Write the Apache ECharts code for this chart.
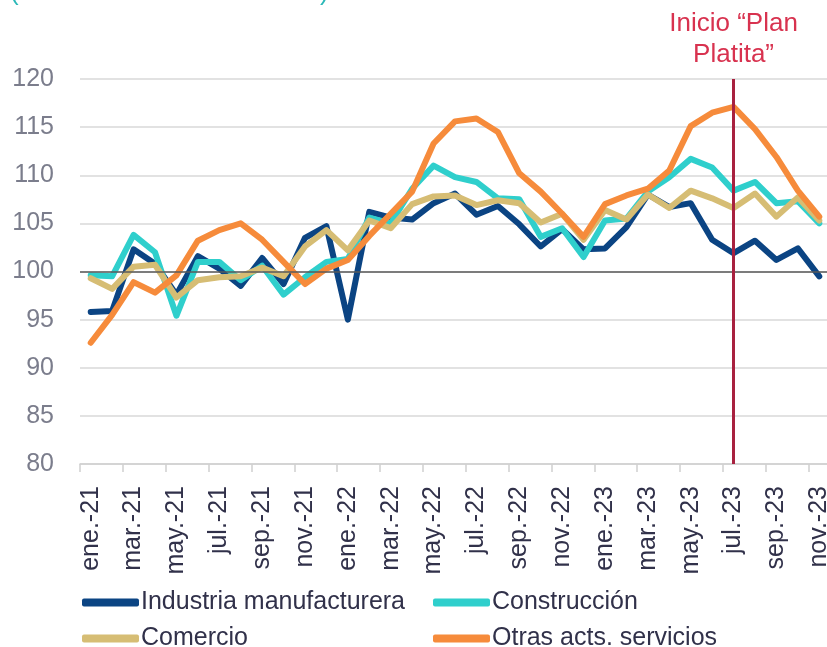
<!DOCTYPE html>
<html>
<head>
<meta charset="utf-8">
<script src="https://cdn.jsdelivr.net/npm/echarts@6/dist/echarts.min.js"></script>
<style>
  html, body { margin: 0; padding: 0; background: #fff; }
  #chart { width: 827px; height: 647px; }
</style>
</head>
<body>
<div id="chart"></div>
<script>
// meses ene.-21 ... nov.-23
const months = ['ene.', 'feb.', 'mar.', 'abr.', 'may.', 'jun.', 'jul.', 'ago.', 'sep.', 'oct.', 'nov.', 'dic.'];
const categories = [];
['21', '22', '23'].forEach(y => months.forEach(m => categories.push(m + '-' + y)));
categories.length = 35;

const industria = [95.8, 95.9, 102.3, 100.8, 97.6, 101.6, 100.3, 98.5, 101.4, 98.7, 103.5, 104.7,
  95.0, 106.2, 105.6, 105.4, 107.1, 108.1, 105.9, 106.8, 104.9, 102.6, 104.4, 102.3,
  102.4, 104.6, 108.0, 106.7, 107.1, 103.3, 101.9, 103.2, 101.2, 102.4, 99.5];
const construccion = [99.6, 99.5, 103.8, 102.0, 95.4, 101.0, 101.0, 99.1, 100.6, 97.6, 99.4, 101.0,
  101.3, 105.6, 105.0, 108.6, 111.0, 109.8, 109.3, 107.6, 107.5, 103.6, 104.5, 101.5,
  105.3, 105.5, 108.3, 109.8, 111.7, 110.8, 108.4, 109.3, 107.1, 107.3, 105.0];
const comercio = [99.3, 98.2, 100.5, 100.7, 97.3, 99.1, 99.4, 99.5, 100.4, 99.5, 102.6, 104.3,
  102.2, 105.3, 104.5, 107.0, 107.8, 107.9, 106.9, 107.4, 107.1, 105.1, 106.0, 103.3,
  106.4, 105.4, 108.0, 106.6, 108.4, 107.6, 106.6, 108.1, 105.7, 107.7, 105.3];
const otras = [92.6, 95.5, 98.9, 97.8, 99.6, 103.2, 104.3, 105.0, 103.3, 101.0, 98.7, 100.3,
  101.2, 103.7, 106.0, 108.3, 113.3, 115.6, 115.9, 114.5, 110.2, 108.3, 106.0, 103.6,
  107.0, 107.9, 108.6, 110.5, 115.1, 116.5, 117.1, 114.8, 111.9, 108.4, 105.7];

const planMonth = 'jul.-23';
const baseLine = 100;

const font = 'Liberation Sans, Arial, sans-serif';
const textColor = '#31314a';

const chart = echarts.init(document.getElementById('chart'));

function line(name, data, color, extra) {
  return Object.assign({
    name: name,
    type: 'line',
    data: data,
    symbol: 'none',
    lineStyle: { width: 6, color: color, join: 'round', cap: 'round' },
    itemStyle: { color: color }
  }, extra || {});
}

function legendAt(name, left, top) {
  return {
    data: [name], left: left, top: top,
    icon: 'roundRect', itemWidth: 57, itemHeight: 8,
    textStyle: { fontFamily: font, fontSize: 25, color: textColor, padding: [0, 0, 0, -3] }
  };
}

chart.setOption({
  animation: false,
  textStyle: { fontFamily: font },
  grid: { left: 80, width: 750, top: 79, bottom: 183, outerBoundsMode: 'none', containLabel: false },
  legend: [
    legendAt('Industria manufacturera', 77, 585),
    legendAt('Construcción', 428, 585),
    legendAt('Comercio', 77, 621),
    legendAt('Otras acts. servicios', 428, 621)
  ],
  graphic: [
    { type: 'text', left: 10, top: -20, style: { text: '(', fontSize: 26, fill: '#2bb8b8', fontFamily: font } },
    { type: 'text', left: 320, top: -20, style: { text: ')', fontSize: 26, fill: '#2bb8b8', fontFamily: font } }
  ],
  xAxis: {
    type: 'category',
    data: categories,
    boundaryGap: true,
    axisLine: { lineStyle: { color: '#d0d0d0', width: 1.5 } },
    axisTick: { show: true, interval: 1, length: 8, lineStyle: { color: '#d0d0d0', width: 1.5 } },
    axisLabel: { interval: 1, rotate: 90, fontSize: 25, color: textColor, margin: 22 },
    splitLine: { show: false }
  },
  yAxis: {
    type: 'value',
    min: 80, max: 120, interval: 5,
    axisLine: { show: false },
    axisTick: { show: false },
    axisLabel: { fontSize: 25, color: '#7b7d8c', margin: 26 },
    splitLine: { lineStyle: { color: '#d9d9d9', width: 1.5 } }
  },
  series: [
    line('Industria manufacturera', industria, '#0b4483', {
      markLine: {
        silent: true, symbol: 'none',
        lineStyle: { color: '#5a5a5a', width: 1.5, type: 'solid' },
        label: { show: false },
        data: [{ yAxis: baseLine }]
      }
    }),
    line('Construcción', construccion, '#2fcfcc'),
    line('Comercio', comercio, '#d6bd74'),
    line('Otras acts. servicios', otras, '#f68b3b', {
      markLine: {
        silent: true, symbol: 'none',
        lineStyle: { color: '#a8213f', width: 3, type: 'solid' },
        label: {
          show: true, position: 'end', distance: 9,
          formatter: 'Inicio “Plan\nPlatita”',
          fontSize: 26, lineHeight: 31, color: '#d8324f', fontFamily: font
        },
        data: [{ xAxis: planMonth }]
      }
    })
  ]
});
</script>
</body>
</html>
